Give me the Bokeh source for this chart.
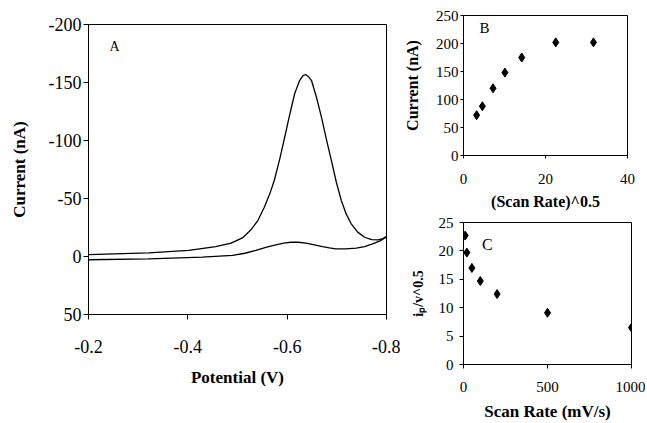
from bokeh.plotting import figure
from bokeh.layouts import row, column
from bokeh.models import Range1d, FixedTicker, Label, PrintfTickFormatter
from bokeh.embed import file_html
from bokeh.resources import INLINE

# ---- Panel A: voltammograms ----
pot_peak = [-0.200, -0.321, -0.402, -0.456, -0.487, -0.510, -0.527, -0.541, -0.554, -0.565,
            -0.574, -0.585, -0.595, -0.605, -0.615, -0.625, -0.632, -0.637, -0.643, -0.649,
            -0.659, -0.669, -0.679, -0.689, -0.699, -0.709, -0.719, -0.729, -0.742, -0.756,
            -0.770, -0.783, -0.793, -0.800]
cur_peak = [-1.7, -3.1, -5.2, -8.6, -11.5, -16.0, -23.0, -31.0, -42.5, -54.0,
            -65.5, -84.0, -102.8, -122.0, -140.3, -151.7, -156.0, -156.9, -155.0, -151.7,
            -137.3, -120.1, -101.0, -82.8, -64.0, -48.3, -36.5, -28.2, -21.0, -16.6,
            -14.5, -14.3, -15.5, -17.5]
pot_small = [-0.200, -0.321, -0.429, -0.490, -0.515, -0.537, -0.557, -0.577, -0.593, -0.607,
             -0.622, -0.638, -0.655, -0.671, -0.685, -0.698, -0.718, -0.739, -0.756, -0.772,
             -0.787, -0.800]
cur_small = [2.8, 2.0, 0.6, -0.9, -2.8, -5.2, -7.8, -10.1, -11.6, -12.3,
             -12.3, -11.5, -10.0, -8.6, -7.4, -6.6, -6.6, -7.3, -8.6, -10.9,
             -13.5, -16.8]
a_xticks = [-0.2, -0.4, -0.6, -0.8]
a_yticks = [-200, -150, -100, -50, 0, 50]

# ---- Panel B ----
sqrt_rate = [3.2, 4.6, 7.2, 10.1, 14.2, 22.5, 31.7]
peak_current = [72, 88, 120, 148, 175, 202, 202]
b_xticks = [0, 20, 40]
b_yticks = [0, 50, 100, 150, 200, 250]

# ---- Panel C ----
scan_rate = [10, 20, 50, 100, 200, 500, 1000]
ip_norm = [22.7, 19.7, 17.0, 14.7, 12.4, 9.1, 6.5]
c_xticks = [0, 500, 1000]
c_yticks = [0, 5, 10, 15, 20, 25]

FONT = "Liberation Serif"


def style(p, tick_size, label_size, xl_std, xa_std, yl_std, ya_std, tick_out=4):
    p.outline_line_color = "black"
    p.outline_line_width = 1
    p.xgrid.grid_line_color = None
    p.ygrid.grid_line_color = None
    for ax in (p.xaxis[0], p.yaxis[0]):
        ax.axis_line_color = "black"
        ax.major_tick_line_color = "black"
        ax.major_tick_out = tick_out
        ax.major_tick_in = 0
        ax.minor_tick_line_color = None
        ax.major_label_text_font = FONT
        ax.major_label_text_font_size = f"{tick_size}px"
        ax.major_label_text_color = "black"
        ax.axis_label_text_font = FONT
        ax.axis_label_text_font_style = "bold"
        ax.axis_label_text_font_size = f"{label_size}px"
        ax.axis_label_text_color = "black"
    p.xaxis[0].major_label_standoff = xl_std
    p.xaxis[0].axis_label_standoff = xa_std
    p.yaxis[0].major_label_standoff = yl_std
    p.yaxis[0].axis_label_standoff = ya_std


# Panel A
pa = figure(frame_width=298, frame_height=290,
            min_border_left=88, min_border_right=14, min_border_top=24, min_border_bottom=107,
            x_range=Range1d(-0.2, -0.8), y_range=Range1d(50, -200),
            output_backend="svg", toolbar_location=None,
            x_axis_label="Potential (V)", y_axis_label="Current (nA)")
pa.line(pot_peak, cur_peak, line_color="black", line_width=1.3)
pa.line(pot_small, cur_small, line_color="black", line_width=1.3)
pa.xaxis.ticker = FixedTicker(ticks=a_xticks)
pa.yaxis.ticker = FixedTicker(ticks=a_yticks)
pa.xaxis.formatter = PrintfTickFormatter(format="%.1f")
pa.yaxis.formatter = PrintfTickFormatter(format="%d")
style(pa, 18, 17, 20, 12, 2, 17, tick_out=5)
pa.add_layout(Label(x=-0.2525, y=-181, text="A", text_font=FONT, text_font_size="14px",
                    text_align="center", text_baseline="middle", text_color="black"))

# Panel B
pb = figure(frame_width=164, frame_height=140,
            min_border_left=59, min_border_right=22, min_border_top=15, min_border_bottom=60,
            x_range=Range1d(0, 40), y_range=Range1d(0, 250),
            output_backend="svg", toolbar_location=None,
            x_axis_label="(Scan Rate)^0.5", y_axis_label="Current (nA)")
pb.scatter(sqrt_rate, peak_current, marker="diamond", size=9,
           fill_color="black", line_color="black")
pb.xaxis.ticker = FixedTicker(ticks=b_xticks)
pb.yaxis.ticker = FixedTicker(ticks=b_yticks)
style(pb, 15, 16, 15, 6, 2, 12, tick_out=3)
pb.add_layout(Label(x=5.1, y=227, text="B", text_font=FONT, text_font_size="15px",
                    text_align="center", text_baseline="middle", text_color="black"))

# Panel C
pc = figure(frame_width=168, frame_height=142,
            min_border_left=62, min_border_right=15, min_border_top=7, min_border_bottom=57,
            x_range=Range1d(0, 1000), y_range=Range1d(0, 25),
            output_backend="svg", toolbar_location=None,
            x_axis_label="Scan Rate (mV/s)", y_axis_label="iₚ/v^0.5")
pc.scatter(scan_rate, ip_norm, marker="diamond", size=9,
           fill_color="black", line_color="black")
pc.xaxis.ticker = FixedTicker(ticks=c_xticks)
pc.yaxis.ticker = FixedTicker(ticks=c_yticks)
style(pc, 15, 16, 13, 7, 6, 10, tick_out=4)
pc.xaxis[0].axis_label_text_font_size = "17px"
pc.yaxis[0].axis_label_text_font_size = "14px"
pc.add_layout(Label(x=142, y=21.2, text="C", text_font=FONT, text_font_size="16px",
                    text_align="center", text_baseline="middle", text_color="black"))

layout = row(pa, column(pb, pc))

with open("out.html", "w") as f:
    f.write(file_html(layout, INLINE))
